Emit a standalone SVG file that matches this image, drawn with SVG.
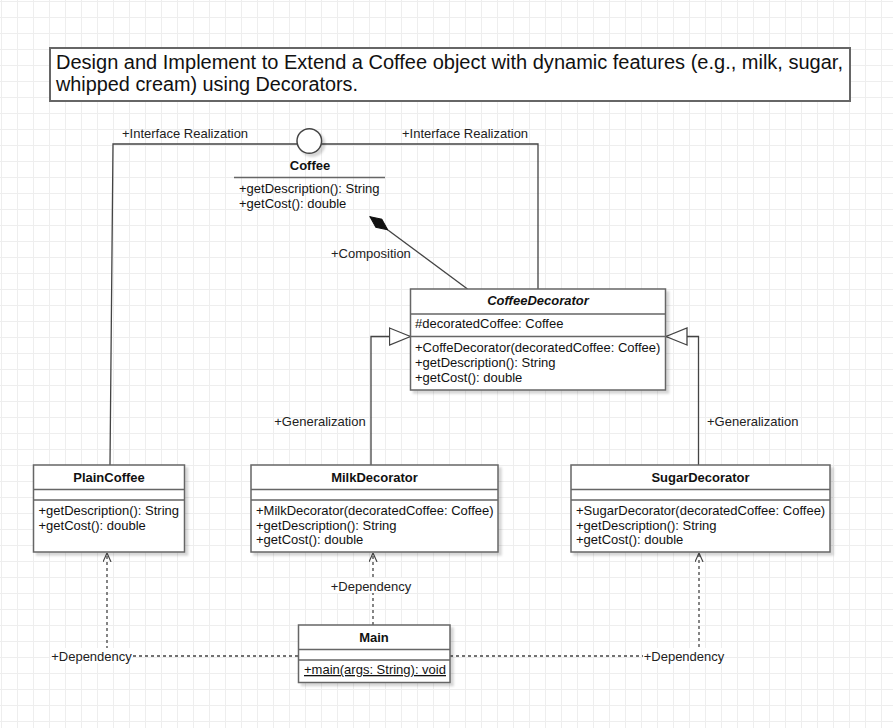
<svg xmlns="http://www.w3.org/2000/svg" width="893" height="728" viewBox="0 0 893 728">
<style>
text{font-family:"Liberation Sans",Arial,Helvetica,sans-serif;fill:#111}
.t{font-size:13px}
.b{font-size:13px;font-weight:bold;text-anchor:middle}
.box{fill:#fff;stroke:#666;stroke-width:1.5}
.sep{stroke:#666;stroke-width:1.5;fill:none}
.edge{fill:none;stroke:#444;stroke-width:1.3}
.dash{fill:none;stroke:#444;stroke-width:1.3;stroke-dasharray:3 3}
.lbl{font-size:13px;fill:#222}
.mid{text-anchor:middle}
.bg{fill:#fff}
</style>
<defs>
<pattern id="grid" x="1" y="1" width="16" height="16" patternUnits="userSpaceOnUse">
<path d="M0 0H16M0 0V16" stroke="#eeeeee" stroke-width="2" fill="none"/>
</pattern>
<filter id="sh" x="-10%" y="-10%" width="130%" height="130%">
<feDropShadow dx="3" dy="3" stdDeviation="1.2" flood-color="#000" flood-opacity="0.16"/>
</filter>
<marker id="open" viewBox="0 0 10 10" refX="10" refY="5" markerWidth="9" markerHeight="9" markerUnits="userSpaceOnUse" orient="auto">
<path d="M0,0.5 L10,5 L0,9.5" fill="none" stroke="#444" stroke-width="1.3"/>
</marker>
<marker id="tri" viewBox="0 0 23 19" refX="22" refY="9.5" markerWidth="23" markerHeight="19" markerUnits="userSpaceOnUse" orient="auto">
<path d="M1,1 L22,9.5 L1,18 Z" fill="#fff" stroke="#444" stroke-width="1.3"/>
</marker>
<marker id="dia" viewBox="0 0 23 11" refX="22.5" refY="5.5" markerWidth="23" markerHeight="11" markerUnits="userSpaceOnUse" orient="auto">
<path d="M0.5,5.5 L11.5,0.5 L22.5,5.5 L11.5,10.5 Z" fill="#111" stroke="#111" stroke-width="1"/>
</marker>
</defs>
<rect width="893" height="728" fill="#fff"/>
<rect width="893" height="728" fill="url(#grid)"/>

<g id="title">
<rect x="50" y="48" width="800" height="53" fill="#fff" stroke="#666" stroke-width="2"/>
<text x="56" y="69.3" font-size="19.5" textLength="787" lengthAdjust="spacingAndGlyphs">Design and Implement to Extend a Coffee object with dynamic features (e.g., milk, sugar,</text>
<text x="56" y="91.3" font-size="19.5" textLength="302" lengthAdjust="spacingAndGlyphs">whipped cream) using Decorators.</text>
</g>

<g id="connectors">
<path class="edge" d="M297,144 H113 L110,465"/>
<path class="edge" d="M321.5,144 H538 V289"/>
<text class="lbl" x="122" y="138">+Interface Realization</text>
<text class="lbl" x="402" y="138">+Interface Realization</text>
<path class="edge" d="M467.5,289 L370,216.7" marker-end="url(#dia)"/>
<text class="lbl" x="331" y="258">+Composition</text>
<path class="edge" d="M371,465 V336.5 H410.5" marker-end="url(#tri)"/>
<text class="lbl mid" x="320" y="426">+Generalization</text>
<path class="edge" d="M698.5,465 V336.5 H666" marker-end="url(#tri)"/>
<text class="lbl" x="707" y="426">+Generalization</text>
<path class="dash" d="M298,656 H107 V553" marker-end="url(#open)"/>
<rect class="bg" x="51" y="648" width="81" height="15"/>
<text class="lbl mid" x="91.5" y="660.5">+Dependency</text>
<path class="dash" d="M373,625 V553" marker-end="url(#open)"/>
<rect class="bg" x="331" y="578" width="80" height="15"/>
<text class="lbl mid" x="371" y="590.5">+Dependency</text>
<path class="dash" d="M450,656 H699 V553" marker-end="url(#open)"/>
<rect class="bg" x="643" y="648" width="81" height="15"/>
<text class="lbl mid" x="684" y="660.5">+Dependency</text>
</g>

<g id="coffee">
<circle cx="309.3" cy="141" r="12.3" fill="#fff" stroke="#444" stroke-width="1.5" filter="url(#sh)"/>
<text class="b" x="310" y="170">Coffee</text>
<path class="sep" d="M234,177.5 H385"/>
<text class="t" x="239" y="193">+getDescription(): String</text>
<text class="t" x="239" y="207.5">+getCost(): double</text>
</g>

<g id="coffeeDecorator">
<rect class="box" x="410.5" y="289" width="255" height="101" filter="url(#sh)"/>
<text class="b" x="538" y="305" font-style="italic">CoffeeDecorator</text>
<path class="sep" d="M410.5,314 H665.5 M410.5,336.5 H665.5"/>
<text class="t" x="415" y="328">#decoratedCoffee: Coffee</text>
<text class="t" x="415" y="352">+CoffeDecorator(decoratedCoffee: Coffee)</text>
<text class="t" x="415" y="367">+getDescription(): String</text>
<text class="t" x="415" y="382">+getCost(): double</text>
</g>

<g id="plainCoffee">
<rect class="box" x="33.5" y="465" width="151" height="87" filter="url(#sh)"/>
<text class="b" x="109" y="482">PlainCoffee</text>
<path class="sep" d="M33.5,489.5 H184.5 M33.5,500 H184.5"/>
<text class="t" x="38.5" y="515">+getDescription(): String</text>
<text class="t" x="38.5" y="529.5">+getCost(): double</text>
</g>

<g id="milkDecorator">
<rect class="box" x="251" y="465" width="247" height="87" filter="url(#sh)"/>
<text class="b" x="374.5" y="482">MilkDecorator</text>
<path class="sep" d="M251,489.5 H498 M251,500 H498"/>
<text class="t" x="256" y="515">+MilkDecorator(decoratedCoffee: Coffee)</text>
<text class="t" x="256" y="529.5">+getDescription(): String</text>
<text class="t" x="256" y="544">+getCost(): double</text>
</g>

<g id="sugarDecorator">
<rect class="box" x="571" y="465" width="259" height="87" filter="url(#sh)"/>
<text class="b" x="700.5" y="482">SugarDecorator</text>
<path class="sep" d="M571,489.5 H830 M571,500 H830"/>
<text class="t" x="576" y="515">+SugarDecorator(decoratedCoffee: Coffee)</text>
<text class="t" x="576" y="529.5">+getDescription(): String</text>
<text class="t" x="576" y="544">+getCost(): double</text>
</g>

<g id="main">
<rect class="box" x="298.5" y="625" width="151.5" height="57.5" filter="url(#sh)"/>
<text class="b" x="374" y="642">Main</text>
<path class="sep" d="M298.5,649.5 H450 M298.5,660 H450"/>
<text class="t" x="304" y="674" text-decoration="underline">+main(args: String): void</text>
</g>
</svg>
